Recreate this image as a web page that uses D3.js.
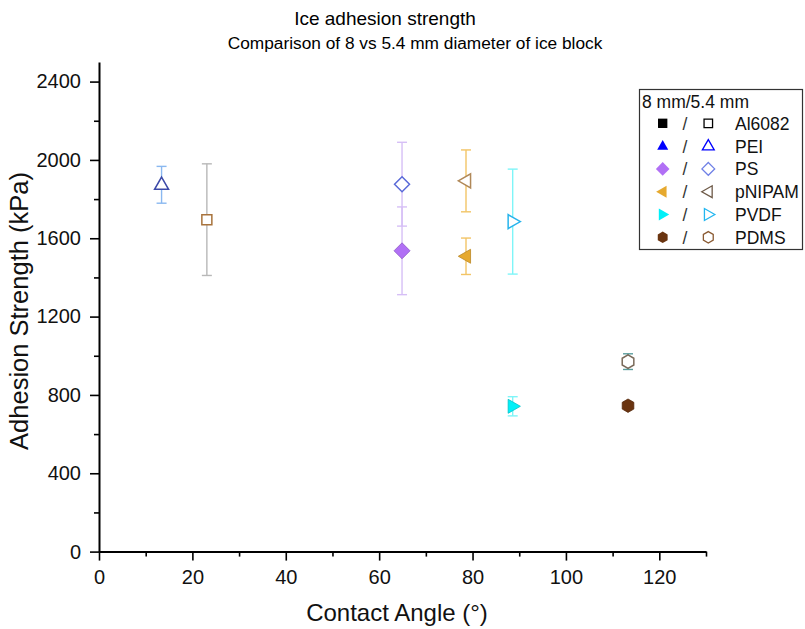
<!DOCTYPE html>
<html>
<head>
<meta charset="utf-8">
<script src="https://cdn.jsdelivr.net/npm/d3@7"></script>
<style>
  html, body { margin: 0; padding: 0; background: #fff; }
  svg { display: block; font-family: "Liberation Sans", Arial, sans-serif; }
</style>
</head>
<body>
<svg id="chart" width="805" height="629"></svg>
<script>
// ---- data ----
const categories   = ["Al6082", "PEI", "PS", "pNIPAM", "PVDF", "PDMS"];
const contactAngle = [23.1, 13.4, 64.9, 78.6, 88.6, 113.3];
const strength8    = [null, null, 1536, 1508, 742, 745];   // 8 mm (filled)
const err8         = [null, null, 224, 93, 49, 12];
const strength54   = [1695, 1873, 1876, 1893, 1685, 970];  // 5.4 mm (hollow)
const err54        = [285, 94, 214, 158, 268, 40];
const xTicks = [0, 20, 40, 60, 80, 100, 120];
const yTicks = [0, 400, 800, 1200, 1600, 2000, 2400];
const xMinor = [10, 30, 50, 70, 90, 110, 130];
const yMinor = [200, 600, 1000, 1400, 1800, 2200];

// ---- styles ----
const shapes      = ["square", "triUp", "diamond", "triLeft", "triRight", "hexagon"];
const fillColors  = ["#000000", "#0000ff", "#b170f5", "#e6a92e", "#00f0f8", "#6a3410"];
const hollowColor = ["#a8733c", "#3c4aa8", "#5a6ad8", "#b08858", "#28b4ec", "#7a6a5a"];
const legendHollow= ["#000000", "#0000ff", "#6f80e6", "#6e5a48", "#22b6f0", "#8a5a32"];
const barColors   = ["#b8b8b8", "#8ab8f0", "#d6bff6", "#f2c466", "#7ff5f8", "#5a9c9c"];

const svg = d3.select("#chart");
const x = d3.scaleLinear().domain([0, 130]).range([99, 706]);
const y = d3.scaleLinear().domain([0, 2500]).range([551.6, 62]);

function shapePath(type, r) {
  const p = d3.path();
  if (type === "square") {
    p.rect(-r, -r, 2 * r, 2 * r);
  } else if (type === "triUp") {
    p.moveTo(0, -r * 1.1); p.lineTo(r, r * 0.65); p.lineTo(-r, r * 0.65); p.closePath();
  } else if (type === "triLeft") {
    p.moveTo(-r * 1.1, 0); p.lineTo(r * 0.65, -r); p.lineTo(r * 0.65, r); p.closePath();
  } else if (type === "triRight") {
    p.moveTo(r * 1.1, 0); p.lineTo(-r * 0.65, -r); p.lineTo(-r * 0.65, r); p.closePath();
  } else if (type === "diamond") {
    p.moveTo(0, -r); p.lineTo(r, 0); p.lineTo(0, r); p.lineTo(-r, 0); p.closePath();
  } else if (type === "hexagon") {
    for (let i = 0; i < 6; i++) {
      const a = -Math.PI / 2 + i * Math.PI / 3;
      const px = r * Math.cos(a), py = r * Math.sin(a);
      if (i === 0) p.moveTo(px, py); else p.lineTo(px, py);
    }
    p.closePath();
  }
  return p.toString();
}
const markerR = { square: 5.5, triUp: 6.5, diamond: 8, triLeft: 7, triRight: 7, hexagon: 6.7 };
const hollowR = { square: 5, triUp: 7, diamond: 7.5, triLeft: 7, triRight: 7, hexagon: 6.7 };

// ---- title ----
svg.append("text").attr("x", 385).attr("y", 25).attr("text-anchor", "middle")
  .attr("font-size", 19).attr("fill", "#000").text("Ice adhesion strength");
svg.append("text").attr("x", 415).attr("y", 48.5).attr("text-anchor", "middle")
  .attr("font-size", 17.3).attr("fill", "#000").text("Comparison of 8 vs 5.4 mm diameter of ice block");

// ---- axes ----
const fmt = d3.format("d");
const xAxis = svg.append("g").attr("transform", "translate(0,551.6)")
  .call(d3.axisBottom(x).tickValues(xTicks).tickFormat(fmt).tickSize(9).tickSizeOuter(0).tickPadding(9));
const xAxisMinor = svg.append("g").attr("transform", "translate(0,551.6)")
  .call(d3.axisBottom(x).tickValues(xMinor).tickSize(5).tickSizeOuter(0).tickFormat(""));
const yAxis = svg.append("g").attr("transform", "translate(99,0)")
  .call(d3.axisLeft(y).tickValues(yTicks).tickFormat(fmt).tickSize(9).tickSizeOuter(0).tickPadding(9));
const yAxisMinor = svg.append("g").attr("transform", "translate(99,0)")
  .call(d3.axisLeft(y).tickValues(yMinor).tickSize(5).tickSizeOuter(0).tickFormat(""));
[xAxis, yAxis, xAxisMinor, yAxisMinor].forEach(g => {
  g.select(".domain").attr("stroke", "#000").attr("stroke-width", 2);
  g.selectAll(".tick line").attr("stroke", "#000").attr("stroke-width", 1.6);
  g.selectAll(".tick text").attr("font-size", 20).attr("fill", "#111")
    .attr("font-family", "Liberation Sans, Arial, sans-serif");
});
xAxisMinor.select(".domain").remove();
yAxisMinor.select(".domain").remove();

svg.append("text").attr("x", 397).attr("y", 621).attr("text-anchor", "middle")
  .attr("font-size", 24).attr("fill", "#111").text("Contact Angle (°)");
svg.append("text").attr("transform", "translate(28,311) rotate(-90)").attr("text-anchor", "middle")
  .attr("font-size", 25.5).attr("fill", "#111").text("Adhesion Strength (kPa)");

// ---- error bars ----
function errorBar(cx, v, e, color) {
  const g = svg.append("g").attr("stroke", color).attr("stroke-width", 1.4).attr("fill", "none");
  g.append("line").attr("x1", x(cx)).attr("x2", x(cx)).attr("y1", y(v + e)).attr("y2", y(v - e));
  g.append("line").attr("x1", x(cx) - 5).attr("x2", x(cx) + 5).attr("y1", y(v + e)).attr("y2", y(v + e));
  g.append("line").attr("x1", x(cx) - 5).attr("x2", x(cx) + 5).attr("y1", y(v - e)).attr("y2", y(v - e));
}
categories.forEach((c, i) => {
  if (strength54[i] != null) errorBar(contactAngle[i], strength54[i], err54[i], barColors[i]);
  if (strength8[i] != null) errorBar(contactAngle[i], strength8[i], err8[i], barColors[i]);
});

// ---- markers ----
categories.forEach((c, i) => {
  const s = shapes[i];
  if (strength54[i] != null) {
    svg.append("path").attr("d", shapePath(s, hollowR[s]))
      .attr("transform", `translate(${x(contactAngle[i])},${y(strength54[i])})`)
      .attr("fill", "#fff").attr("stroke", hollowColor[i]).attr("stroke-width", 1.5);
  }
  if (strength8[i] != null) {
    svg.append("path").attr("d", shapePath(s, markerR[s]))
      .attr("transform", `translate(${x(contactAngle[i])},${y(strength8[i])})`)
      .attr("fill", fillColors[i]).attr("stroke", d3.color(fillColors[i]).darker(0.6)).attr("stroke-width", 0.8);
  }
});

// ---- legend ----
const lg = svg.append("g");
lg.append("rect").attr("x", 639.5).attr("y", 89.5).attr("width", 163).attr("height", 160)
  .attr("fill", "#fff").attr("stroke", "#333").attr("stroke-width", 1.2);
lg.append("text").attr("x", 642).attr("y", 108).attr("font-size", 17.5).attr("fill", "#111").text("8 mm/5.4 mm");
categories.forEach((c, i) => {
  const cy = 123.3 + i * 22.8;
  const s = shapes[i];
  lg.append("path").attr("d", shapePath(s, markerR[s] * 0.85))
    .attr("transform", `translate(662.7,${cy})`).attr("fill", fillColors[i]);
  lg.append("text").attr("x", 685).attr("y", cy + 6.5).attr("text-anchor", "middle")
    .attr("font-size", 17.5).attr("fill", "#333").text("/");
  lg.append("path").attr("d", shapePath(s, hollowR[s] * 0.85))
    .attr("transform", `translate(708.3,${cy})`).attr("fill", "#fff")
    .attr("stroke", legendHollow[i]).attr("stroke-width", 1.3);
  lg.append("text").attr("x", 735).attr("y", cy + 6.5).attr("font-size", 17.5)
    .attr("fill", "#111").text(c);
});
</script>
</body>
</html>
